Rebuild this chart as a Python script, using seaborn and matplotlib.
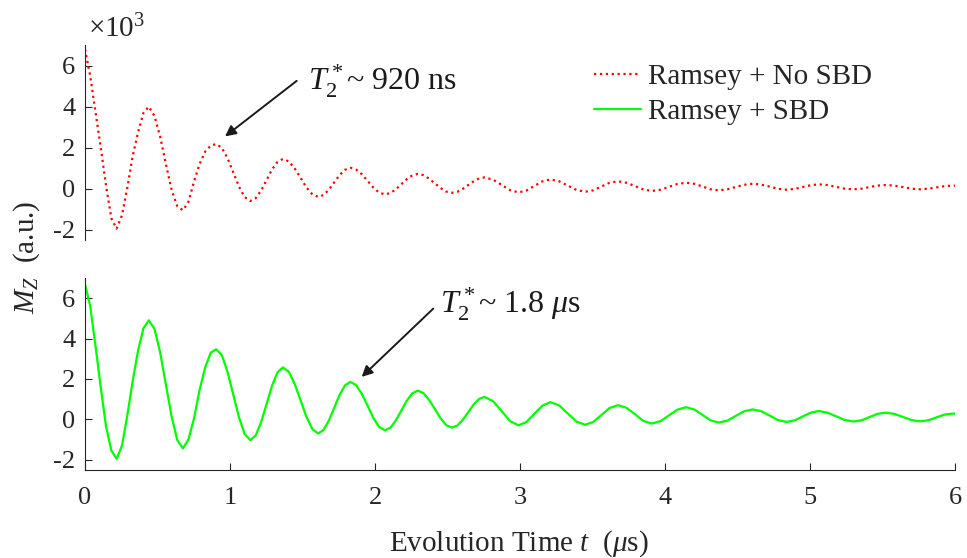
import matplotlib
matplotlib.use("Agg")
import matplotlib.pyplot as plt
import seaborn as sns

# ---------------------------------------------------------
# data, Mz in units of 10^3
# ---------------------------------------------------------
t_us = [
    0, 0.036, 0.073, 0.109, 0.145, 0.182, 0.218,
    0.255, 0.292, 0.329, 0.366, 0.403, 0.44,
    0.479, 0.518, 0.558, 0.597, 0.636, 0.675,
    0.713, 0.752, 0.790, 0.828, 0.867, 0.905,
    0.944, 0.983, 1.023, 1.062, 1.101, 1.14,
    1.178, 1.215, 1.253, 1.29, 1.328, 1.365,
    1.406, 1.446, 1.487, 1.527, 1.568, 1.608,
    1.645, 1.682, 1.719, 1.756, 1.793, 1.83,
    1.87, 1.91, 1.95, 1.989, 2.029, 2.069,
    2.107, 2.144, 2.182, 2.22, 2.257, 2.295,
    2.334, 2.373, 2.413, 2.452, 2.491, 2.53,
    2.568, 2.605, 2.643, 2.68, 2.718, 2.755,
    2.814, 2.873, 2.931, 2.99,
    3.045, 3.10, 3.155, 3.21,
    3.27, 3.329, 3.389, 3.448,
    3.505, 3.562, 3.618, 3.675,
    3.734, 3.793, 3.851, 3.91,
    3.969, 4.028, 4.086, 4.145,
    4.201, 4.258, 4.314, 4.37,
    4.429, 4.488, 4.546, 4.605,
    4.664, 4.723, 4.781, 4.84,
    4.895, 4.95, 5.005, 5.06,
    5.12, 5.18, 5.24, 5.30,
    5.355, 5.41, 5.465, 5.52,
    5.58, 5.64, 5.70, 5.76,
    5.815, 5.87, 5.925, 5.98,
    6.0,
]

mz_no_sbd = [
    6.8, 5.5, 3.73, 1.98, 0.15, -1.45, -1.95,
    -1.3, 0.05, 1.6, 2.75, 3.7, 4.0,
    3.55, 2.55, 1.2, -0.05, -0.85, -1.05,
    -0.65, 0.35, 1.2, 1.8, 2.1, 2.18,
    1.99, 1.49, 0.79, 0.10, -0.41, -0.60,
    -0.46, -0.09, 0.43, 0.94, 1.31, 1.45,
    1.33, 0.99, 0.53, 0.06, -0.28, -0.40,
    -0.31, -0.05, 0.31, 0.67, 0.92, 1.02,
    0.93, 0.70, 0.37, 0.05, -0.19, -0.28,
    -0.21, -0.03, 0.22, 0.47, 0.65, 0.72,
    0.66, 0.49, 0.26, 0.03, -0.14, -0.20,
    -0.15, -0.01, 0.18, 0.36, 0.50, 0.55,
    0.44, 0.19, -0.07, -0.18,
    -0.09, 0.14, 0.36, 0.45,
    0.36, 0.15, -0.06, -0.15,
    -0.08, 0.11, 0.29, 0.36,
    0.29, 0.13, -0.04, -0.11,
    -0.05, 0.09, 0.23, 0.29,
    0.24, 0.11, -0.03, -0.08,
    -0.03, 0.08, 0.19, 0.24,
    0.20, 0.10, -0.01, -0.05,
    -0.01, 0.08, 0.17, 0.21,
    0.18, 0.09, 0.00, -0.03,
    0.00, 0.08, 0.15, 0.18,
    0.15, 0.08, 0.00, -0.03,
    0.00, 0.06, 0.12, 0.15,
    0.15,
]

mz_sbd = [
    6.7, 5.6, 3.6, 1.55, -0.35, -1.55, -1.96,
    -1.3, 0.2, 1.9, 3.4, 4.5, 4.9,
    4.48, 3.32, 1.73, 0.15, -1.02, -1.44,
    -1.0, 0.05, 1.45, 2.55, 3.3, 3.47,
    3.17, 2.35, 1.22, 0.10, -0.73, -1.03,
    -0.79, -0.13, 0.77, 1.67, 2.33, 2.57,
    2.35, 1.75, 0.94, 0.12, -0.48, -0.70,
    -0.53, -0.06, 0.58, 1.21, 1.68, 1.85,
    1.69, 1.25, 0.66, 0.06, -0.38, -0.54,
    -0.41, -0.05, 0.44, 0.93, 1.29, 1.42,
    1.30, 0.96, 0.51, 0.05, -0.29, -0.41,
    -0.31, -0.03, 0.35, 0.73, 1.01, 1.11,
    0.90, 0.41, -0.09, -0.30,
    -0.13, 0.28, 0.68, 0.85,
    0.69, 0.29, -0.11, -0.27,
    -0.13, 0.22, 0.56, 0.70,
    0.57, 0.25, -0.08, -0.21,
    -0.09, 0.20, 0.48, 0.60,
    0.49, 0.22, -0.05, -0.16,
    -0.07, 0.17, 0.40, 0.49,
    0.40, 0.18, -0.04, -0.13,
    -0.05, 0.14, 0.33, 0.41,
    0.33, 0.15, -0.03, -0.11,
    -0.05, 0.11, 0.27, 0.33,
    0.27, 0.12, -0.04, -0.10,
    -0.05, 0.09, 0.23, 0.28,
    0.28,
]

labels = ["Ramsey + No SBD", "Ramsey + SBD"]
x_ticks = [0, 1, 2, 3, 4, 5, 6]
y_ticks = [-2, 0, 2, 4, 6]

# ---------------------------------------------------------
# style
# ---------------------------------------------------------
sns.set_theme(style="ticks")
AXC = "#262626"
plt.rcParams.update({
    "font.family": ["Liberation Serif", "DejaVu Serif"],
    "mathtext.fontset": "custom",
    "mathtext.rm": "Liberation Serif",
    "mathtext.it": "Liberation Serif:italic",
    "mathtext.bf": "Liberation Serif:bold",
    "axes.unicode_minus": False,
    "axes.edgecolor": AXC,
    "axes.linewidth": 0.8,
    "xtick.color": AXC,
    "ytick.color": AXC,
    "xtick.labelsize": 19,
    "ytick.labelsize": 19,
})

fig = plt.figure(figsize=(9.67, 5.58), dpi=100)
ax_top = fig.add_axes([0.0879, 0.570, 0.8997, 0.349])
ax_bot = fig.add_axes([0.0879, 0.158, 0.8997, 0.344])

sns.lineplot(x=t_us, y=mz_no_sbd, ax=ax_top, color="#ff0000",
             linestyle=":", linewidth=1.6, label=labels[0], legend=False)
sns.lineplot(x=t_us, y=mz_sbd, ax=ax_bot, color="#00ff00",
             linewidth=1.6, label=labels[1], legend=False)

for ax in (ax_top, ax_bot):
    ax.set_xlim(0, 6)
    ax.set_ylim(-2.5, 7)
    ax.set_yticks(y_ticks)
    ax.set_yticklabels([str(v) for v in y_ticks])
    ax.spines["top"].set_visible(False)
    ax.spines["right"].set_visible(False)
    ax.tick_params(direction="in", length=5, width=0.8, pad=7, labelcolor=AXC)
    ax.set_xlabel("")
    ax.set_ylabel("")

ax_top.spines["bottom"].set_visible(False)
ax_top.tick_params(axis="x", bottom=False, labelbottom=False)
ax_bot.set_xticks(x_ticks)
ax_bot.set_xticklabels([str(v) for v in x_ticks])
ax_bot.tick_params(axis="x", pad=12)

# x10^3 multiplier
ax_top.text(0.003, 1.04, r"$\times10^3$", transform=ax_top.transAxes,
            ha="left", va="baseline", fontsize=21, color=AXC)

# legend
h1, l1 = ax_top.get_legend_handles_labels()
h2, l2 = ax_bot.get_legend_handles_labels()
ax_top.legend(h1 + h2, l1 + l2, loc="upper left", bbox_to_anchor=(0.585, 0.905),
              frameon=False, fontsize=21, handlelength=1.6, handletextpad=0.25,
              labelspacing=0.3, borderpad=0, borderaxespad=0)

# annotations
arrow = dict(arrowstyle="-|>", color="k", lw=1.4, mutation_scale=16,
             shrinkA=0, shrinkB=0)
ax_top.annotate("", xy=(0.966, 2.55), xytext=(1.46, 5.26), arrowprops=arrow)
ax_top.text(1.54, 4.8, r"$T_2^*$~ 920 ns", fontsize=23, color="k",
            ha="left", va="baseline")
ax_bot.annotate("", xy=(1.908, 2.1), xytext=(2.402, 5.48), arrowprops=arrow)
ax_bot.text(2.448, 5.24, r"$T_2^*$~ 1.8 $\mu$s", fontsize=23, color="k",
            ha="left", va="baseline")

# axis labels
fig.text(0.028, 0.539, r"$M_Z$  (a.u.)", rotation=90, ha="center", va="center",
         fontsize=21, color=AXC)
fig.text(0.537, 0.013, r"Evolution Time $t$  ($\mu$s)", ha="center", va="baseline",
         fontsize=21, color=AXC)

fig.savefig("out.png", dpi=100)
